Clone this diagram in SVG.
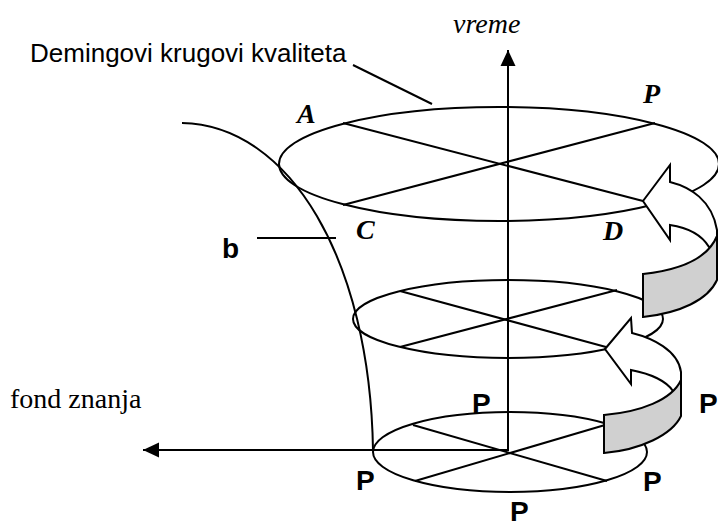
<svg xmlns="http://www.w3.org/2000/svg" width="718" height="527" viewBox="0 0 718 527">
<style>
.ln{fill:none;stroke:#000;stroke-width:2}
.el{fill:none;stroke:#000;stroke-width:2}
.wa{fill:#fff;stroke:#000;stroke-width:2;stroke-linejoin:miter}
.ga{fill:#d0d0d0;stroke:#000;stroke-width:2}
.sans{font-family:"Liberation Sans",Arial,sans-serif;fill:#000}
.serif{font-family:"Liberation Serif","Times New Roman",serif;fill:#000}
.lbl{font-family:"Liberation Serif","Times New Roman",serif;font-weight:bold;font-style:italic;font-size:28px;fill:#000}
.pb{font-family:"Liberation Sans",Arial,sans-serif;font-weight:bold;font-size:28px;fill:#000}
</style>
<defs>
<marker id="ah" markerWidth="16" markerHeight="16" refX="16" refY="8" orient="auto" markerUnits="userSpaceOnUse">
<path d="M0,0.5 L16,8 L0,15.5 Z" fill="#000"/>
</marker>
</defs>
<rect width="718" height="527" fill="#fff"/>

<g id="trumpet-curve">
<path class="ln" d="M182,123 C290,125 370,260 373,450"/>
</g>

<g id="circle-top">
<ellipse class="el" cx="499" cy="164" rx="220" ry="57"/>
<line class="ln" x1="343" y1="123" x2="643" y2="201"/>
<line class="ln" x1="343" y1="205" x2="655" y2="123"/>
</g>

<g id="circle-middle">
<ellipse class="el" cx="508" cy="319" rx="155" ry="39"/>
<line class="ln" x1="400" y1="291" x2="606" y2="347"/>
<line class="ln" x1="400" y1="347" x2="617" y2="290"/>
</g>

<g id="circle-bottom">
<ellipse class="el" cx="510" cy="452" rx="137" ry="40"/>
<line class="ln" x1="413" y1="425" x2="607" y2="481"/>
<line class="ln" x1="415" y1="481" x2="605" y2="425"/>
</g>

<g id="connectors">
<line class="ln" x1="508" y1="451" x2="508" y2="50" marker-end="url(#ah)"/>
<line class="ln" x1="509" y1="450" x2="143" y2="450" marker-end="url(#ah)"/>
<line class="ln" x1="353" y1="65" x2="432" y2="104"/>
<line class="ln" x1="257" y1="238" x2="336" y2="238"/>
</g>

<g id="arrow-upper">
<path class="wa" d="M643,201 L670,165 L670,182 C690,187 712,200 717,230 L717,246 L709,247 C703,237 690,228 670,225 L670,240 Z"/>
<path class="ga" d="M643,274 C680,270 708,258 717,236 L717,280 C708,300 680,313 643,317 Z"/>
</g>

<g id="arrow-lower">
<path class="wa" d="M605,349 L631,318 L632,333 C652,338 678,350 681,372 L681,392 L673,391 C667,382 652,374 631,370 L631,384 Z"/>
<path class="ga" d="M604,415 C640,412 672,400 681,380 L681,416 C672,435 640,450 604,453 Z"/>
</g>

<g id="labels">
<text class="sans" x="30" y="62" font-size="26">Demingovi krugovi kvaliteta</text>
<text class="serif" x="453" y="33" font-size="28" font-style="italic">vreme</text>
<text class="serif" x="10" y="408" font-size="28">fond znanja</text>
<text class="pb" x="222" y="258">b</text>
<text class="lbl" x="297" y="123">A</text>
<text class="lbl" x="643" y="103">P</text>
<text class="lbl" x="356" y="239">C</text>
<text class="lbl" x="603" y="240">D</text>
<text class="pb" x="472" y="413">P</text>
<text class="pb" x="699" y="413">P</text>
<text class="pb" x="356" y="490">P</text>
<text class="pb" x="643" y="491">P</text>
<text class="pb" x="510" y="521">P</text>
</g>
</svg>
